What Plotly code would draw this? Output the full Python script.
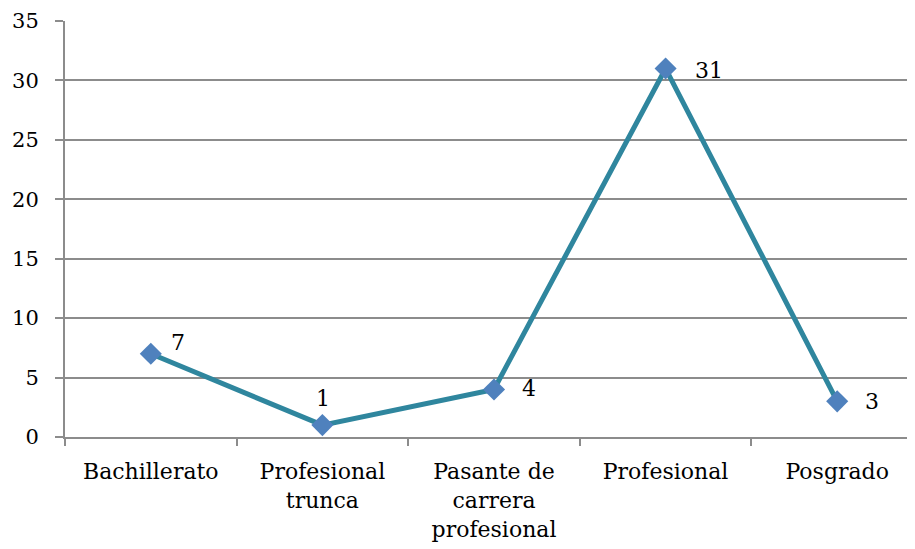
import plotly.graph_objects as go

categories = ["Bachillerato", "Profesional<br>trunca", "Pasante de<br>carrera<br>profesional", "Profesional", "Posgrado"]
values = [7, 1, 4, 31, 3]
labels = ["7", "1", "4", "31", "3"]
label_dx = [18, -8, 26, 27, 26]
label_dy = [11, 27, 1, -2, 0]

font = "DejaVu Serif"

fig = go.Figure(go.Scatter(
    x=categories, y=values,
    mode="lines+markers",
    line=dict(color="#2F869E", width=5),
    marker=dict(symbol="diamond", size=17, color="#4F81BD"),
    cliponaxis=False,
))

for c, v, t, dx, dy in zip(categories, values, labels, label_dx, label_dy):
    fig.add_annotation(x=c, y=v, text=t, showarrow=False,
                       xanchor="left", yanchor="middle", xshift=dx, yshift=dy,
                       font=dict(family=font, size=22, color="black"))

fig.update_layout(
    width=915, height=549,
    margin=dict(l=57, r=0, t=13, b=120, autoexpand=False),
    paper_bgcolor="white", plot_bgcolor="white",
    showlegend=False,
    font=dict(family=font, size=22, color="black"),
)
fig.update_xaxes(
    type="category", range=[-0.5, 4.5],
    showgrid=False, showline=True, linecolor="#8C8C8C", linewidth=2,
    ticks="outside", tickson="boundaries", ticklen=7, tickcolor="#8C8C8C", tickwidth=2,
    ticklabelstandoff=14,
    tickfont=dict(family=font, size=22),
    automargin=False,
)
fig.update_yaxes(
    range=[0, 35], dtick=5,
    showgrid=True, gridcolor="#8C8C8C", gridwidth=1.5,
    showline=True, linecolor="#8C8C8C", linewidth=2,
    ticks="outside", ticklen=8, tickcolor="#8C8C8C", tickwidth=2,
    ticklabelstandoff=12, ticklabeloverflow="allow",
    tickfont=dict(family=font, size=21),
    zeroline=False, automargin=False,
)

fig.write_html("out.html")
